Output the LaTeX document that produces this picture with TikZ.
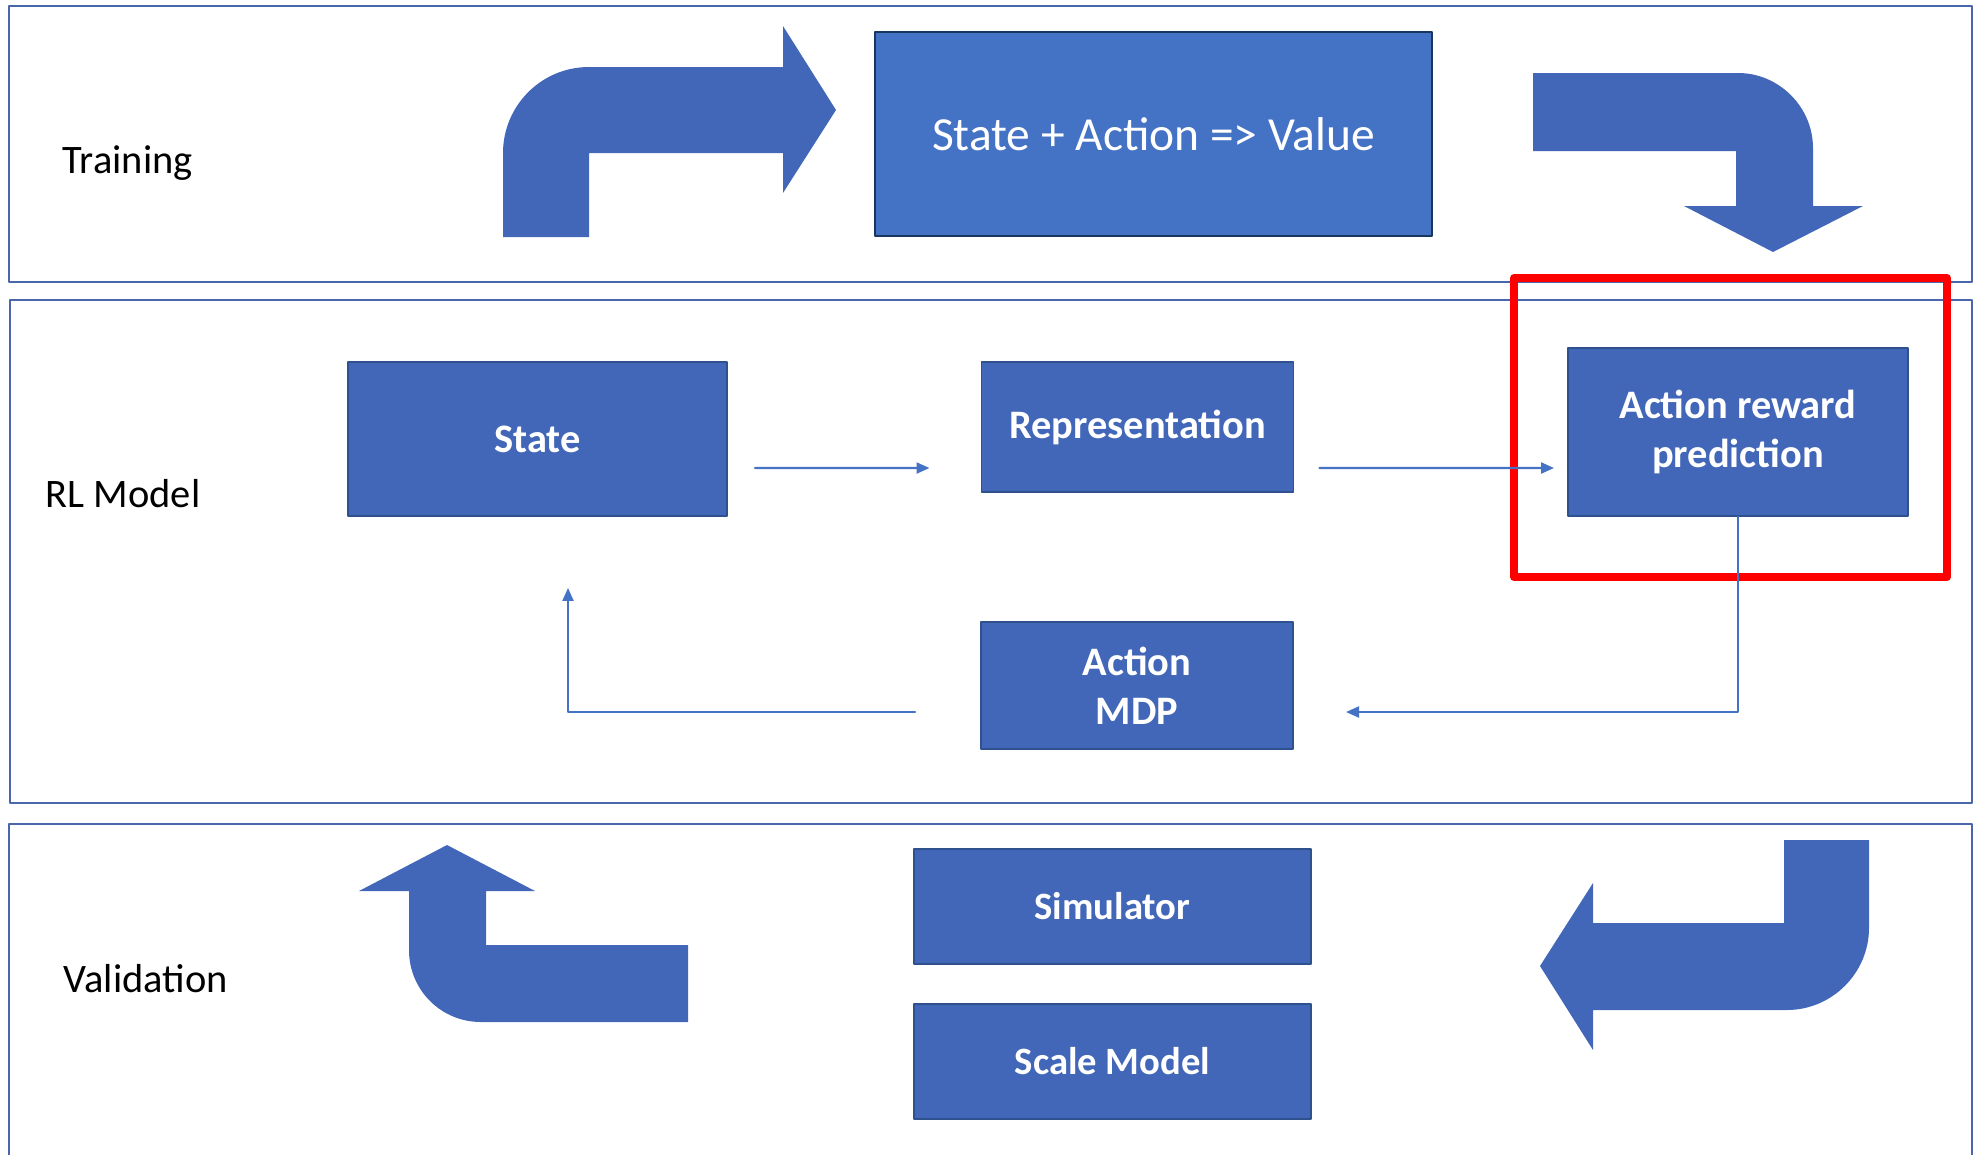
\documentclass[tikz,border=0pt]{standalone}
\usepackage{fontspec}
\setmainfont{Carlito}
\usetikzlibrary{arrows.meta}
\usetikzlibrary{positioning}
\definecolor{panelblue}{RGB}{74,102,172}
\definecolor{boxblue}{RGB}{66,103,184}
\definecolor{topblue}{RGB}{68,114,196}
\definecolor{topline}{RGB}{23,55,94}
\definecolor{boxline}{RGB}{47,82,143}
\definecolor{connblue}{RGB}{68,114,196}

\begin{document}
\begin{tikzpicture}[line cap=round,line join=round,x=0.01cm,y=-0.01cm,
  panel/.style={draw=panelblue,line width=0.8pt},
  bluebox/.style={fill=boxblue,draw=boxline,line width=0.5pt,text=white,align=center,
    font=\fontsize{11.5}{14}\selectfont\bfseries,inner sep=0pt},
  valbox/.style={bluebox,font=\fontsize{11}{14}\selectfont\bfseries},
  conn/.style={draw=connblue,line width=0.6pt,-{Triangle[length=0.13cm,width=0.11cm]}},
  bent/.style={fill=boxblue},
  lbl/.style={anchor=base west,inner sep=0pt,font=\fontsize{11.5}{14}\selectfont}]
\useasboundingbox (0,0) rectangle (1978,1154);
\draw[panel] (9,6) rectangle (1972,282);
\draw[panel] (10,300) rectangle (1972,803);
\draw[panel] (9,1160) -- (9,824) -- (1972,824) -- (1972,1160);
\node[lbl] (training) at (62,173) {Training};
\node[lbl] (rlmodel) at (45,507) {RL Model};
\node[lbl] (validation) at (63,992) {Validation};
\node[fill=topblue,draw=topline,line width=0.7pt,text=white,inner sep=0pt,
  minimum width=5.57cm,minimum height=2.04cm,font=\fontsize{13.5}{16}\selectfont]
  (value) at (1153.5,134) {State + Action => Value};
\fill[bent] (503,237) -- (503,153) .. controls (503,106) and (541,67) .. (589,67)
  -- (783,67) -- (783,26) -- (836,110) -- (783,193) -- (783,153) -- (589,153)
  -- (589,237) -- cycle;
\fill[bent] (1533,73) -- (1738,73) .. controls (1779,73) and (1813,107) .. (1813,148)
  -- (1813,206) -- (1863,206) -- (1773,252) -- (1684,206) -- (1736,206)
  -- (1736,151) -- (1533,151) -- cycle;
\node[bluebox,minimum width=3.79cm,minimum height=1.54cm] (state) at (537.5,439) {State};
\node[bluebox,minimum width=3.12cm,minimum height=1.30cm] (repr) at (1137.5,427) {Representation};
\node[bluebox,minimum width=3.40cm,minimum height=1.68cm] (arp) at (1738,432) {Action reward\\prediction};
\node[bluebox,minimum width=3.12cm,minimum height=1.27cm] (mdp) at (1137,685.5) {Action\\MDP};
\draw[red,line width=2.3pt,line cap=butt] (1514,278) rectangle (1947,577);
\draw[conn] ([xshift=0.27cm,yshift=-0.29cm]state.east) -- ([xshift=-0.51cm,yshift=-0.41cm]repr.west);
\draw[conn] ([xshift=0.25cm,yshift=-0.41cm]repr.east) -- ([xshift=-0.13cm,yshift=-0.36cm]arp.west);
\draw[conn] (arp.south) |- ([xshift=0.52cm,yshift=-0.265cm]mdp.east);
\draw[conn] ([xshift=-0.65cm,yshift=-0.265cm]mdp.west) -| ([xshift=0.305cm,yshift=-0.71cm]state.south);
\node[valbox,minimum width=3.97cm,minimum height=1.15cm] (sim) at (1112.5,906.5) {Simulator};
\node[valbox,minimum width=3.97cm,minimum height=1.15cm] (scale) at (1112.5,1061.5) {Scale Model};
\fill[bent] (688,1022) -- (481,1022) .. controls (441,1022) and (409,990) .. (409,950)
  -- (409,891) -- (359,891) -- (447,845) -- (535,891) -- (486,891) -- (486,945)
  -- (688,945) -- cycle;
\fill[bent] (1784,840) -- (1869,840) -- (1869,928) .. controls (1869,973) and (1832,1010) .. (1787,1010)
  -- (1593,1010) -- (1593,1050) -- (1540,966) -- (1593,883) -- (1593,923)
  -- (1784,923) -- cycle;
\end{tikzpicture}
\end{document}
